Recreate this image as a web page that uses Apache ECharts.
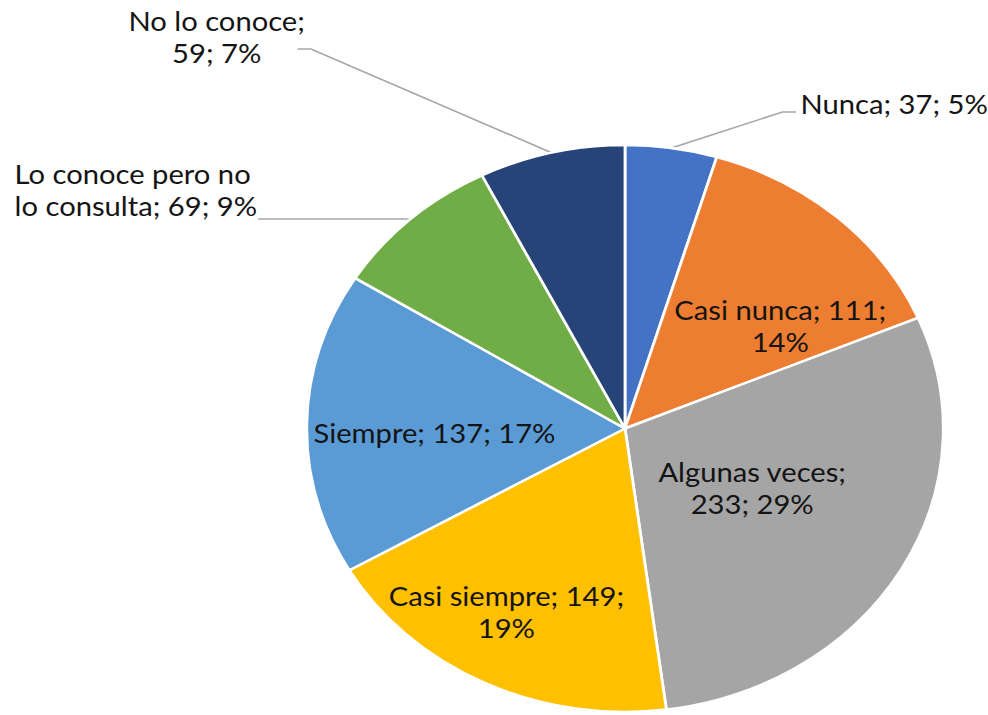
<!DOCTYPE html>
<html lang="es">
<head>
  <meta charset="UTF-8">
  <title>Pie</title>
  <script src="https://cdn.jsdelivr.net/npm/echarts@6/dist/echarts.min.js"></script>
  <style>
    html, body { margin: 0; padding: 0; background: #fff; overflow: hidden; }
    /* the original picture is stretched horizontally, so the chart is too */
    #chart { width: 880px; height: 715px; transform: scaleX(1.1227); transform-origin: 0 0; }
  </style>
</head>
<body>
  <div id="chart"></div>
  <script>
    // datos
    var categories = ['Nunca', 'Casi nunca', 'Algunas veces', 'Casi siempre', 'Siempre', 'Lo conoce pero no lo consulta', 'No lo conoce'];
    var values = [37, 111, 233, 149, 137, 69, 59];
    var colors = ['#4472C4', '#ED7D31', '#A5A5A5', '#FFC000', '#5B9BD5', '#70AD47', '#264478'];
    var outsideLabel = [true, false, false, false, false, true, true];
    // word after which the label wraps (0 = single line)
    var wrapWords = [0, 3, 2, 3, 0, 4, 3];

    // label anchors (px, chart coords) as Excel placed them
    var labelAnchor = [
      { x: 713, y: 104, align: 'left', line: [[697, 112], [709, 112]] },
      { x: 695, y: 326, align: 'center' },
      { x: 670, y: 488, align: 'center' },
      { x: 451, y: 612, align: 'center' },
      { x: 387, y: 433, align: 'center' },
      { x: 13, y: 190, align: 'left', line: [[300, 219], [230, 219]] },
      { x: 193, y: 37, align: 'center', line: [[277, 49], [265, 49]] }
    ];

    var chart = echarts.init(document.getElementById('chart'), null, { renderer: 'svg' });

    var data = categories.map(function (name, i) {
      return {
        name: name,
        value: values[i],
        itemStyle: { color: colors[i] },
        label: { position: outsideLabel[i] ? 'outside' : 'inside' },
        labelLine: { show: outsideLabel[i] }
      };
    });

    chart.setOption({
      animation: false,
      series: [{
        type: 'pie',
        center: [556.7, 428.5],
        radius: 283.5,
        startAngle: 90,
        clockwise: true,
        avoidLabelOverlap: false,
        itemStyle: { borderColor: '#fff', borderWidth: 2.5 },
        emphasis: { disabled: true },
        label: {
          show: true,
          fontFamily: 'Lato',
          fontSize: 26,
          lineHeight: 32,
          color: '#141414',
          formatter: function (p) {
            var words = (p.name + '; ' + p.value + '; ' + Math.round(p.percent) + '%').split(' ');
            var n = wrapWords[p.dataIndex];
            if (!n) return words.join(' ');
            return words.slice(0, n).join(' ') + '\n' + words.slice(n).join(' ');
          }
        },
        labelLine: {
          lineStyle: { color: '#A6A6A6', width: 1.6 }
        },
        labelLayout: function (p) {
          var a = labelAnchor[p.dataIndex];
          var out = { x: a.x, y: a.y, align: a.align, verticalAlign: 'middle' };
          if (a.line && p.labelLinePoints) {
            out.labelLinePoints = [p.labelLinePoints[0]].concat(a.line);
          }
          return out;
        },
        data: data
      }]
    });
  </script>
</body>
</html>
